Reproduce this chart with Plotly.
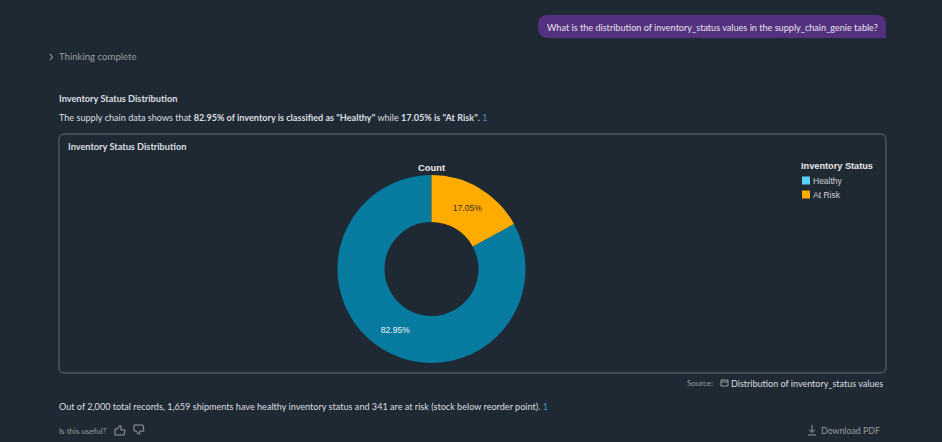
import plotly.graph_objects as go

W, H = 942, 442

# chart values
statuses = ['Healthy', 'At Risk']
counts = [1659, 341]
slice_colors = ['#077a9f', '#ffab00']
legend_colors = ['#5bd0f7', '#ffab00']
label_colors = ['#e8f4f8', '#3a3320']

BG = '#1f2933'
TEXT = '#dcdfe1'
MUTED = '#9a9d9f'
BORDER = '#686b6f'
LINK = '#4a90c2'
UI_FONT = 'Lato'
CHART_FONT = 'Liberation Sans'
REF = f' <span style="color:{LINK}">1</span>'


def px(x, y):
    # page pixels to paper coordinates
    return f'{x / W:.5f},{1 - y / H:.5f}'


def path(points):
    return 'M ' + ' L '.join(px(x, y) for x, y in points)


def rounded(x0, y0, x1, y1, r, square_br=False):
    br = (f'L {px(x1, y1)} ' if square_br else
          f'L {px(x1, y1 - r)} Q {px(x1, y1)} {px(x1 - r, y1)} ')
    return (f'M {px(x0 + r, y0)} L {px(x1 - r, y0)} Q {px(x1, y0)} {px(x1, y0 + r)} ' + br +
            f'L {px(x0 + r, y1)} Q {px(x0, y1)} {px(x0, y1 - r)} '
            f'L {px(x0, y0 + r)} Q {px(x0, y0)} {px(x0 + r, y0)} Z')


def text(x, y, s, size=9.1, color=TEXT, anchor='left', font=UI_FONT):
    # annotations sit 2px in from their anchor
    shift = {'left': -2, 'right': 2, 'center': 0}[anchor]
    return dict(x=(x + shift) / W, y=1 - y / H, xref='paper', yref='paper', text=s, showarrow=False,
                xanchor=anchor, yanchor='middle', align=anchor,
                font=dict(family=font, size=size, color=color))


def line(points, color=MUTED, width=1):
    return dict(type='path', xref='paper', yref='paper', path=path(points),
                line=dict(color=color, width=width))


fig = go.Figure()

fig.add_trace(go.Pie(
    labels=statuses, values=counts, hole=0.5, sort=False, direction='clockwise',
    rotation=counts[1] / sum(counts) * 360,
    marker=dict(colors=slice_colors, line=dict(width=0)),
    texttemplate='%{percent:.2%}', textposition='inside', insidetextorientation='horizontal',
    textfont=dict(family=CHART_FONT, size=8.6, color=label_colors),
    domain=dict(x=[(431.5 - 94) / W, (431.5 + 94) / W], y=[1 - 363 / H, 1 - 175 / H]),
    showlegend=False,
))

shapes = [
    dict(type='path', xref='paper', yref='paper', path=rounded(538, 15, 886, 38, 10, square_br=True),
         fillcolor='#54317f', line=dict(width=0)),
    dict(type='path', xref='paper', yref='paper', path=rounded(59, 134, 886, 373, 6),
         line=dict(color=BORDER, width=1)),
    # chevron
    line([(50, 54), (52.5, 57), (50, 60)], color='#b5b8ba'),
    # thumbs up
    line([(115, 429), (115, 435), (124, 435), (125, 430), (121, 430), (121, 426), (119, 426), (117.5, 429), (115, 429)]),
    # thumbs down
    line([(134, 425), (143, 425), (144, 431), (140, 431), (139.5, 434), (138, 434), (136.5, 431), (134, 431), (134, 425)]),
    # download
    line([(812, 425), (812, 432)]),
    line([(809, 429.5), (812, 432.5), (815, 429.5)]),
    line([(808, 435), (816, 435)]),
    # source icon
    dict(type='rect', xref='paper', yref='paper', x0=721 / W, x1=728 / W, y0=1 - 386 / H, y1=1 - 380 / H,
         line=dict(color=MUTED, width=1)),
    line([(721, 382), (728, 382)]),
]

annotations = [
    text(547, 27, 'What is the distribution of inventory_status values in the supply_chain_genie table?', color='#e6e3ec'),
    text(59, 57, 'Thinking complete', size=9.6, color=MUTED),
    text(59, 99, '<b>Inventory Status Distribution</b>', size=9.2),
    text(59, 118, 'The supply chain data shows that <b>82.95% of inventory is classified as "Healthy"</b> while '
                  '<b>17.05% is "At Risk"</b>.' + REF),
    text(68, 147, '<b>Inventory Status Distribution</b>', size=9.2),
    text(431.5, 167, '<b>Count</b>', size=9.4, color='#eeeeee', anchor='center', font=CHART_FONT),
    text(687, 383, 'Source:', size=8, color=MUTED),
    text(731, 383, 'Distribution of inventory_status values', size=9),
    text(59, 406, 'Out of 2,000 total records, 1,659 shipments have healthy inventory status and 341 are at risk '
                  '(stock below reorder point).' + REF),
    text(59, 431, 'Is this useful?', size=8, color=MUTED),
    text(821, 430, 'Download PDF', size=8.8, color=MUTED),
    text(801, 166, '<b>Inventory Status</b>', size=9.2, color='#e6e6e6', font=CHART_FONT),
]

# legend drawn by hand: its swatches are lighter than the slices and rows are tight
for i, (name, color) in enumerate(zip(statuses, legend_colors)):
    row = 180.5 + i * 14
    shapes.append(dict(type='rect', xref='paper', yref='paper', x0=802 / W, x1=810 / W,
                       y0=1 - (row + 4) / H, y1=1 - (row - 4) / H, fillcolor=color, line=dict(width=0)))
    annotations.append(text(813, row, name, size=8.5, color='#d0d0d0', font=CHART_FONT))

fig.update_layout(
    width=W, height=H, autosize=False,
    margin=dict(l=0, r=0, t=0, b=0),
    paper_bgcolor=BG, plot_bgcolor=BG,
    shapes=shapes, annotations=annotations,
)

fig.write_html('out.html', config={'displayModeBar': False},
               post_script=f"document.body.style.margin='0';document.body.style.background='{BG}';")
